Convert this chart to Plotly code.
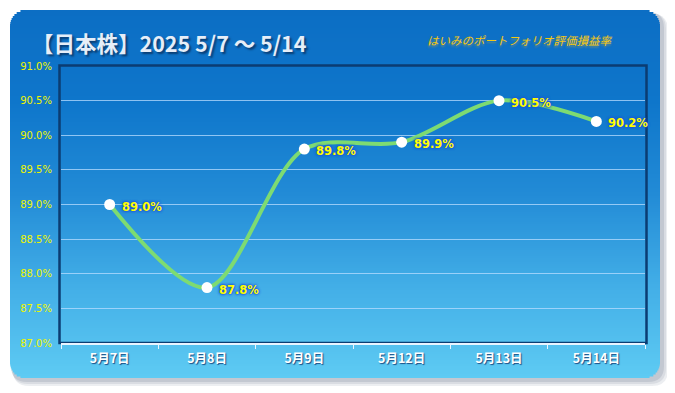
import math
import plotly.graph_objects as go

# ---- data ----
dates = ["5月7日", "5月8日", "5月9日", "5月12日", "5月13日", "5月14日"]
values = [89.0, 87.8, 89.8, 89.9, 90.5, 90.2]
y_ticks = [87.0, 87.5, 88.0, 88.5, 89.0, 89.5, 90.0, 90.5, 91.0]
y_tick_labels = [f"{v:.1f}%" for v in y_ticks]
title_text = "【日本株】2025 5/7 〜 5/14"
subtitle_text = "はいみのポートフォリオ評価損益率"

# ---- geometry (pixels, in reference-screenshot coordinates) ----
OFF = 8  # page body margin offset
W, H = 675 - OFF, 393 - OFF
PL, PR, PT, PB = 61, 645, 66, 343  # plot area in screenshot pixels
L, T = PL - OFF, PT - OFF
R, B = W - (PR - OFF), H - (PB - OFF)
PW, PH = W - L - R, H - T - B


def px(x):
    return (x - OFF - L) / PW


def py(y):
    return 1 - (y - OFF - T) / PH


def rrect_path(x0, y0, x1, y1, r):
    pts = [
        f"M {px(x0 + r)},{py(y0)}",
        f"L {px(x1 - r)},{py(y0)}",
        f"Q {px(x1)},{py(y0)} {px(x1)},{py(y0 + r)}",
        f"L {px(x1)},{py(y1 - r)}",
        f"Q {px(x1)},{py(y1)} {px(x1 - r)},{py(y1)}",
        f"L {px(x0 + r)},{py(y1)}",
        f"Q {px(x0)},{py(y1)} {px(x0)},{py(y1 - r)}",
        f"L {px(x0)},{py(y0 + r)}",
        f"Q {px(x0)},{py(y0)} {px(x0 + r)},{py(y0)}",
        "Z",
    ]
    return " ".join(pts)


stops = [
    (0.0, (12, 110, 196)),
    (0.25, (14, 118, 203)),
    (0.5, (34, 139, 214)),
    (0.75, (66, 174, 231)),
    (1.0, (94, 203, 243)),
]


def grad(t):
    for i in range(len(stops) - 1):
        t0, c0 = stops[i]
        t1, c1 = stops[i + 1]
        if t <= t1:
            f = (t - t0) / (t1 - t0)
            c = [round(c0[k] + (c1[k] - c0[k]) * f) for k in range(3)]
            return f"rgb({c[0]},{c[1]},{c[2]})"
    c = stops[-1][1]
    return f"rgb({c[0]},{c[1]},{c[2]})"


shapes = []
CX0, CY0, CX1, CY1, CR = 10, 10, 660, 378, 16

# shadow
for (dx0, dy0, dx1, dy1, col) in [
    (3, 4, 8, 8, "rgba(150,160,175,0.18)"),
    (2, 3, 6, 6, "rgba(150,160,175,0.22)"),
    (1, 2, 4, 4, "rgba(140,150,165,0.28)"),
]:
    shapes.append(dict(type="path", xref="paper", yref="paper",
                       path=rrect_path(CX0 + dx0, CY0 + dy0, CX1 + dx1, CY1 + dy1, CR),
                       fillcolor=col, line=dict(width=0), layer="below"))

# gradient card built from thin bands
step = 2
y = CY0
while y < CY1:
    y2 = min(y + step, CY1)
    mid = (y + y2) / 2
    inset = 0.0
    if mid < CY0 + CR:
        dy = CY0 + CR - mid
        inset = CR - math.sqrt(max(CR * CR - dy * dy, 0))
    elif mid > CY1 - CR:
        dy = mid - (CY1 - CR)
        inset = CR - math.sqrt(max(CR * CR - dy * dy, 0))
    t = (mid - CY0) / (CY1 - CY0)
    shapes.append(dict(type="rect", xref="paper", yref="paper",
                       x0=px(CX0 + inset), x1=px(CX1 - inset),
                       y0=py(min(y2 + 0.6, CY1)), y1=py(y),
                       fillcolor=grad(t), line=dict(width=0), layer="below"))
    y = y2

# plot frame
shapes.append(dict(type="rect", xref="paper", yref="paper",
                   x0=px(59.5), x1=px(646.5), y0=py(343), y1=py(65.5),
                   fillcolor="rgba(0,0,0,0)", line=dict(color="#0b3c72", width=2.5),
                   layer="below"))

fig = go.Figure()
fig.add_trace(go.Scatter(
    x=dates, y=values,
    mode="lines+markers",
    line=dict(color="#7ddb72", width=4, shape="spline", smoothing=0.9),
    marker=dict(color="white", size=11, line=dict(width=0)),
    cliponaxis=False,
    hoverinfo="skip",
    showlegend=False,
))

annotations = [
    dict(text=title_text, xref="paper", yref="paper",
         x=px(30), y=py(42), xanchor="left", yanchor="middle", showarrow=False,
         font=dict(family="Noto Sans CJK JP", size=21.5, color="#e6eef8", weight="bold",
                   shadow="2px 2px 2px #0a3d72")),
    dict(text=f"<i>{subtitle_text}</i>", xref="paper", yref="paper",
         x=px(614), y=py(40), xanchor="right", yanchor="middle", showarrow=False,
         font=dict(family="Noto Sans CJK JP", size=11.5, color="#f4c814",
                   shadow="0px 2px 2px rgba(200,170,60,0.5)")),
]
for d, v in zip(dates, values):
    annotations.append(dict(
        text=f"{v:.1f}%", x=d, y=v, xref="x", yref="y",
        xanchor="left", yanchor="middle", xshift=10, yshift=-2, showarrow=False,
        borderpad=1,
        font=dict(family="DejaVu Sans, Verdana, sans-serif", size=11.5, color="#ffff00",
                  weight="bold",
                  shadow="0px 0px 3px #1d50d8, 0px 0px 3px #1d50d8, 0px 0px 2px #1d50d8"),
    ))

fig.update_layout(
    width=W, height=H,
    margin=dict(l=L, r=R, t=T, b=B, autoexpand=False),
    paper_bgcolor="white",
    plot_bgcolor="rgba(0,0,0,0)",
    shapes=shapes,
    annotations=annotations,
    xaxis=dict(
        type="category", categoryorder="array", categoryarray=dates,
        range=[-0.5, len(dates) - 0.5],
        showgrid=False, zeroline=False,
        showline=True, linecolor="#e8f4ff", linewidth=1.5,
        ticks="outside", tickson="boundaries", tickcolor="#e8f4ff", ticklen=4, tickwidth=1,
        tickfont=dict(family="Noto Sans CJK JP", size=12.5, color="white", weight="bold",
                      shadow="1px 1px 1px #1b4f86"),
        ticklabelstandoff=3,
    ),
    yaxis=dict(
        range=[87.0, 91.0],
        tickvals=y_ticks, ticktext=y_tick_labels,
        showgrid=True, gridcolor="rgba(185,222,255,0.75)", gridwidth=1,
        zeroline=False, showline=False, ticks="",
        tickfont=dict(family="DejaVu Sans, Verdana, sans-serif", size=10, color="#eef500"),
        ticklabelstandoff=8,
    ),
)

fig.write_html("out.html")
